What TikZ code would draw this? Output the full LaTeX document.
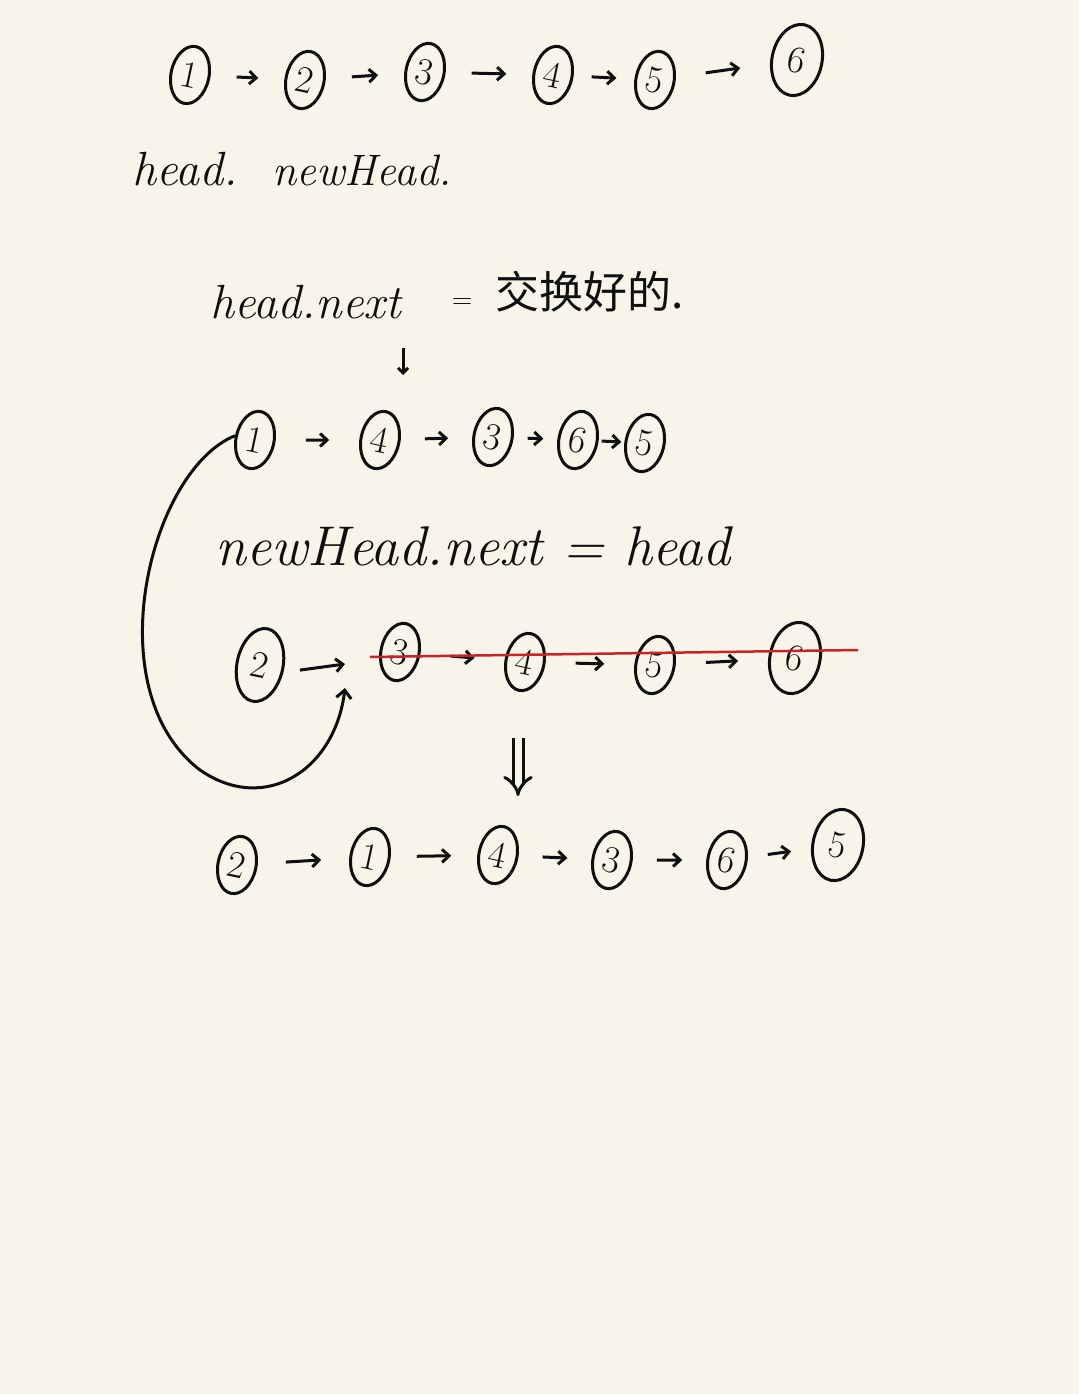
\documentclass[tikz,border=0pt]{standalone}
\usepackage{fontspec}
\newfontfamily\cjk{Noto Sans CJK SC}
\usetikzlibrary{shapes.geometric,arrows.meta}
\definecolor{paper}{RGB}{247,244,233}
\definecolor{ink}{RGB}{15,15,15}
\definecolor{strike}{RGB}{200,35,40}
\tikzset{
  nd/.style={draw=ink, ellipse, line width=3pt, minimum width=38pt, minimum height=58pt,
     inner sep=0pt, font=\fontsize{38}{38}\selectfont, text=ink, rotate=-12},
  big/.style={minimum width=50pt, minimum height=72pt},
  arr/.style={draw=ink, -{Straight Barb[length=7pt,width=13pt]}, line width=3pt, shorten >=#1, shorten <=#1},
  arr/.default=26pt,
  lbl/.style={font=\fontsize{48}{52}\selectfont\itshape, text=ink, anchor=base west, inner sep=0pt},
  stroke/.style={draw=ink, line width=3pt}
}
\begin{document}
\begin{tikzpicture}[x=1pt,y=-1pt]
\useasboundingbox (0,0) rectangle (1079,1394);
\fill[paper] (0,0) rectangle (1079,1394);
% row 1
\node[nd] (a1) at (190,75) {1};
\node[nd] (a2) at (305,80) {2};
\node[nd] (a3) at (425,72) {3};
\node[nd] (a4) at (553,75) {4};
\node[nd] (a5) at (655,80) {5};
\node[nd,big] (a6) at (797,60) {6};
\draw[arr] (a1) -- (a2);
\draw[arr] (a2) -- (a3);
\draw[arr] (a3) -- (a4);
\draw[arr=18pt] (a4) -- (a5);
\draw[arr=30pt] (a5) -- (a6);
\node[lbl] (t1) at (132,185) {head.};
\node[lbl,font=\fontsize{44}{50}\selectfont\itshape] (t2) at (272,185) {newHead.};
% row 2
\node[lbl] (t3) at (210,318) {head.next};
\node[lbl,font=\fontsize{28}{30}\selectfont] (t4) at (452,308) {=};
\node[font=\fontsize{44}{48}\cjk, text=ink, anchor=west, inner sep=0pt] (t5) at (495,292) {交换好的.};
\coordinate (d0) at (403,348);
\coordinate (d1) at (403,375);
\draw[stroke, -{Straight Barb[length=5pt,width=10pt]}] (d0) -- (d1);
% row 3
\node[nd] (b1) at (255,440) {1};
\node[nd] (b4) at (380,440) {4};
\node[nd] (b3) at (493,437) {3};
\node[nd] (b6) at (578,440) {6};
\node[nd] (b5) at (645,443) {5};
\draw[arr=30pt] (b1) -- (b4);
\draw[arr=24pt] (b4) -- (b3);
\draw[arr=14pt] (b3) -- (b6);
\draw[arr=3pt] (b6) -- (b5);
\node[lbl,font=\fontsize{56}{60}\selectfont\itshape] (t6) at (215,565) {newHead.next = head};
% row 4
\node[nd,minimum width=46pt,minimum height=74pt] (c2) at (260,665) {2};
\node[nd] (c3) at (400,652) {3};
\node[nd] (c4) at (525,662) {4};
\node[nd] (c5) at (655,665) {5};
\node[nd,big] (c6) at (795,658) {6};
\coordinate (c2a) at (345,664);
\draw[stroke, -{Straight Barb[length=7pt,width=13pt]}] (c2.east) ++(16,0) -- (c2a);
\draw[arr=30pt] (c3) -- (c4);
\draw[arr=30pt] (c4) -- (c5);
\draw[arr=30pt] (c5) -- (c6);
\coordinate (s1) at (370,657);
\coordinate (s2) at (858,650);
\draw[strike, line width=2.5pt] (s1) -- (s2);
% loop curve
\coordinate (loopend) at (345,688);
\draw[stroke, -{Straight Barb[length=8pt,width=15pt]}] (b1.west) .. controls (150,470) and (95,690) .. (200,770)
   .. controls (265,815) and (335,770) .. (loopend);
% double down arrow
\coordinate (e0) at (518,738);
\coordinate (e1) at (518,796);
\draw[ink, line width=3pt, double=paper, double distance=7pt, -{Implies}] (e0) -- (e1);
% row 5
\node[nd] (f2) at (237,865) {2};
\node[nd] (f1) at (370,857) {1};
\node[nd] (f4) at (498,855) {4};
\node[nd] (f3) at (612,860) {3};
\node[nd] (f6) at (727,860) {6};
\node[nd,big] (f5) at (838,845) {5};
\draw[arr=28pt] (f2) -- (f1);
\draw[arr=26pt] (f1) -- (f4);
\draw[arr=24pt] (f4) -- (f3);
\draw[arr=24pt] (f3) -- (f6);
\draw[arr=20pt] (f6) -- (f5);
\end{tikzpicture}
\end{document}
